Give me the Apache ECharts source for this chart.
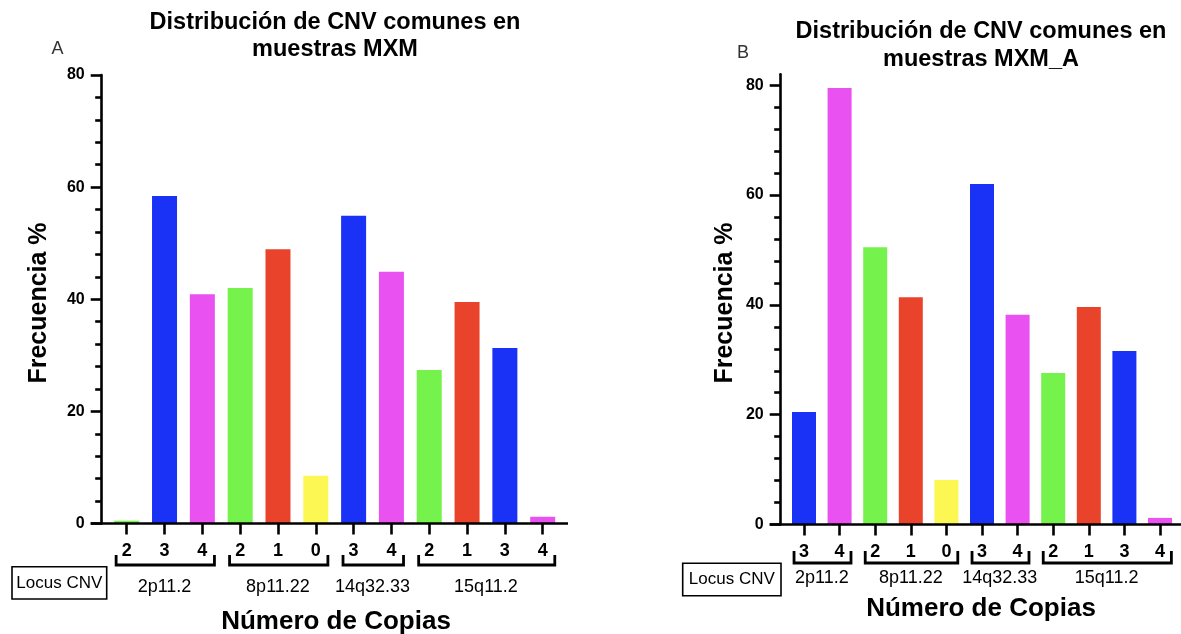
<!DOCTYPE html>
<html>
<head>
<meta charset="utf-8">
<script src="https://cdn.jsdelivr.net/npm/echarts@6/dist/echarts.min.js"></script>
<style>
  html, body { margin: 0; padding: 0; background: #ffffff; }
  #chart { width: 1181px; height: 634px; }
</style>
</head>
<body>
<div id="chart"></div>
<script>
// ---- Panel A: MXM samples ----
const copiesA = ['2', '3', '4', '2', '1', '0', '3', '4', '2', '1', '3', '4'];
const freqA = [0.5, 58.4, 40.9, 42.0, 48.9, 8.5, 54.9, 44.9, 27.4, 39.5, 31.3, 1.2];
const lociA = ['2p11.2', '8p11.22', '14q32.33', '15q11.2'];
const lociSizeA = [3, 3, 2, 4];

// ---- Panel B: MXM_A samples ----
const copiesB = ['3', '4', '2', '1', '0', '3', '4', '2', '1', '3', '4'];
const freqB = [20.5, 79.5, 50.5, 41.4, 8.1, 62.0, 38.2, 27.6, 39.6, 31.6, 1.2];
const lociB = ['2p11.2', '8p11.22', '14q32.33', '15q11.2'];
const lociSizeB = [2, 3, 2, 4];

// ---- Axis ticks ----
const yMajorTicks = [0, 20, 40, 60, 80];
const yMinorTicks = [4, 8, 12, 16, 24, 28, 32, 36, 44, 48, 52, 56, 64, 68, 72, 76];
const yMaxA = 80;
const yMaxB = 82;

// ---- Texts ----
const titleA = ['Distribución de CNV comunes en', 'muestras MXM'];
const titleB = ['Distribución de CNV comunes en', 'muestras MXM_A'];
const yName = 'Frecuencia %';
const xName = 'Número de Copias';
const locusTag = 'Locus CNV';

// Colour per copy number
const copyColors = { '0': '#FCF752', '1': '#E9442B', '2': '#76F24C', '3': '#1A32F5', '4': '#E951F1' };

const FONT = '"Liberation Sans", Arial, Helvetica, sans-serif';
const LW = 2.6;

const chart = echarts.init(document.getElementById('chart'), null, { renderer: 'canvas' });

function barData(copies, freq) {
  return freq.map((v, i) => ({ value: v, itemStyle: { color: copyColors[copies[i]] } }));
}

function xAxisOf(gridIndex, copies) {
  return {
    type: 'category', gridIndex: gridIndex, data: copies, position: 'bottom',
    axisLine: { show: false },
    axisTick: { show: true, alignWithLabel: true, length: 11, lineStyle: { color: '#000', width: LW } },
    axisLabel: { color: '#000', fontFamily: FONT, fontWeight: 'bold', fontSize: 18, margin: 19 },
    splitLine: { show: false }
  };
}

function yMajorOf(gridIndex, max, offset) {
  return {
    type: 'value', gridIndex: gridIndex, position: 'left', min: 0, max: max, offset: offset,
    axisLine: { show: true, lineStyle: { color: '#000', width: LW } },
    axisTick: { show: true, length: 11, customValues: yMajorTicks, lineStyle: { color: '#000', width: LW } },
    axisLabel: { show: true, customValues: yMajorTicks, color: '#000', fontFamily: FONT, fontWeight: 'bold', fontSize: 16, margin: 17 },
    splitLine: { show: false }
  };
}

function yMinorOf(gridIndex, max, offset) {
  return {
    type: 'value', gridIndex: gridIndex, position: 'left', min: 0, max: max, offset: offset,
    axisLine: { show: false },
    axisTick: { show: true, length: 6.5, customValues: yMinorTicks, lineStyle: { color: '#000', width: LW } },
    axisLabel: { show: false },
    splitLine: { show: false }
  };
}

chart.setOption({
  animation: false,
  backgroundColor: '#ffffff',
  grid: [
    { left: 107.8, right: 619.4, top: 75, bottom: 110.5 },
    { left: 786.2, right: 3.2, top: 74.3, bottom: 109.5 }
  ],
  xAxis: [xAxisOf(0, copiesA), xAxisOf(1, copiesB)],
  yAxis: [
    yMajorOf(0, yMaxA, 6.1), yMinorOf(0, yMaxA, 6.1),
    yMajorOf(1, yMaxB, 5.5), yMinorOf(1, yMaxB, 5.5)
  ],
  series: [
    { type: 'bar', xAxisIndex: 0, yAxisIndex: 0, barWidth: 25, data: barData(copiesA, freqA) },
    { type: 'bar', xAxisIndex: 1, yAxisIndex: 2, barWidth: 24, data: barData(copiesB, freqB) }
  ]
});

function textEl(x, y, text, font, extra, fill) {
  return Object.assign({
    type: 'text', x: x, y: y, z: 10,
    style: {
      text: text, font: font, fill: fill || '#000',
      textAlign: 'center', textVerticalAlign: 'middle',
      align: 'center', verticalAlign: 'middle'
    }
  }, extra || {});
}

// Builds baseline, locus brackets and labels for one panel from the axis scales
function panelGraphics(gridIndex, copies, loci, sizes, cfg) {
  const els = [];
  const p0 = chart.convertToPixel({ gridIndex: gridIndex }, [0, 0]);
  const p1 = chart.convertToPixel({ gridIndex: gridIndex }, [1, 0]);
  const pl = chart.convertToPixel({ gridIndex: gridIndex }, [copies.length - 1, 0]);
  const cat = p1[0] - p0[0];
  const y0 = p0[1];
  // x baseline, running a little past the y axis and the last bar
  els.push({
    type: 'line', z: 5,
    shape: { x1: cfg.axisX - 11, y1: y0, x2: pl[0] + 0.67 * cat, y2: y0 },
    style: { stroke: '#000', lineWidth: LW }
  });
  let start = 0;
  loci.forEach((name, g) => {
    const a = chart.convertToPixel({ gridIndex: gridIndex }, [start, 0])[0];
    const b = chart.convertToPixel({ gridIndex: gridIndex }, [start + sizes[g] - 1, 0])[0];
    const xa = a - 0.28 * cat, xb = b + 0.32 * cat;
    els.push({
      type: 'polyline', z: 5,
      shape: { points: [[xa, cfg.brY - cfg.brH], [xa, cfg.brY], [xb, cfg.brY], [xb, cfg.brY - cfg.brH]] },
      style: { stroke: '#000', lineWidth: 2.8, fill: null }
    });
    els.push(textEl((a + b) / 2, cfg.locY, name, '18px ' + FONT));
    start += sizes[g];
  });
  // "Locus CNV" tag
  els.push({
    type: 'rect', z: 5,
    shape: { x: cfg.box[0], y: cfg.box[1], width: cfg.box[2], height: cfg.box[3] },
    style: { stroke: '#000', lineWidth: 1.6, fill: '#fff' }
  });
  els.push(textEl(cfg.box[0] + cfg.box[2] / 2, cfg.box[1] + cfg.box[3] / 2, locusTag, '17px ' + FONT));
  // axis titles
  els.push(textEl(cfg.yNameX, 303, yName, 'bold 25px ' + FONT, { rotation: Math.PI / 2 }));
  els.push(textEl(cfg.xNameX, cfg.xNameY, xName, 'bold 26px ' + FONT));
  // chart title and panel letter
  els.push(textEl(cfg.titleX, cfg.titleY, cfg.title[0], 'bold 23.5px ' + FONT));
  els.push(textEl(cfg.titleX, cfg.titleY + cfg.titleGap, cfg.title[1], 'bold 23.5px ' + FONT));
  els.push(textEl(cfg.letter[1], cfg.letter[2], cfg.letter[0], '18px ' + FONT, null, '#333'));
  return els;
}

const graphics = [].concat(
  panelGraphics(0, copiesA, lociA, lociSizeA, {
    axisX: 101.7, brY: 565, brH: 10, locY: 587,
    box: [12, 566.7, 94.7, 32.3],
    yNameX: 39, xNameX: 336, xNameY: 622,
    title: titleA, titleX: 335, titleY: 23, titleGap: 27,
    letter: ['A', 57.5, 49]
  }),
  panelGraphics(1, copiesB, lociB, lociSizeB, {
    axisX: 780.7, brY: 563, brH: 12, locY: 578,
    box: [682.7, 563.3, 98.3, 32.4],
    yNameX: 725, xNameX: 981, xNameY: 609,
    title: titleB, titleX: 981, titleY: 32, titleGap: 28,
    letter: ['B', 743, 53]
  })
);

chart.setOption({ graphic: graphics });
</script>
</body>
</html>
